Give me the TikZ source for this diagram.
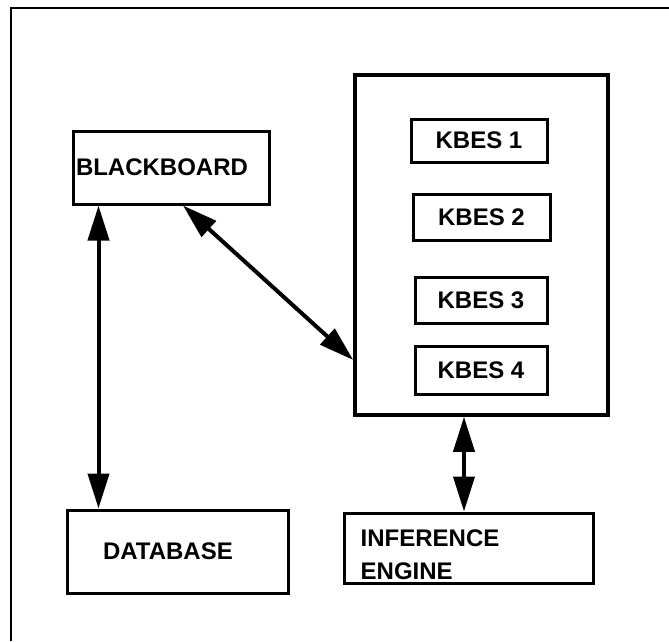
\documentclass[tikz,border=0pt]{standalone}
\usepackage{fontspec}
\setmainfont{Liberation Sans}
\usetikzlibrary{arrows.meta}
\begin{document}
\begin{tikzpicture}[x=1pt,y=-1pt,
  box/.style={draw, line width=3pt, rectangle, inner sep=0pt, font=\bfseries\fontsize{24}{34}\selectfont},
  lbl/.style={inner sep=0pt, font=\bfseries\fontsize{24}{33}\selectfont},
  dbl/.style={line width=4pt, {Triangle[length=35pt 0,width=21pt 0]}-{Triangle[length=35pt 0,width=21pt 0]}}
]
\useasboundingbox (0,0) rectangle (669,641);
% outer frame (cropped at right and bottom)
\draw[line width=2.5pt] (669,8) -- (11,8) -- (11,641);

\node[box, minimum width=196pt, minimum height=73pt, text width=190pt, align=left, inner xsep=3pt] (bb) at (171,167.5) {BLACKBOARD};
\node[box, minimum width=221pt, minimum height=83pt, text width=149pt, align=left, inner xsep=36pt] (db) at (177.5,551.5) {DATABASE};
\node[box, line width=3.5pt, minimum width=253pt, minimum height=340pt] (kb) at (481.5,245) {};
\node[box, minimum width=136pt, minimum height=43pt] (k1) at (479,140.5) {KBES 1};
\node[box, minimum width=137pt, minimum height=46pt] (k2) at (481.5,217) {KBES 2};
\node[box, minimum width=132pt, minimum height=46pt] (k3) at (481,300) {KBES 3};
\node[box, minimum width=132pt, minimum height=48pt] (k4) at (481,370) {KBES 4};
\node[box, minimum width=249pt, minimum height=70pt] (ie) at (468.5,548) {};
\node[lbl, align=left, anchor=base west] (ietext) at ([xshift=18pt,yshift=-31pt]ie.west) {INFERENCE\\ENGINE};

\draw[dbl] ([xshift=27pt]bb.south west) -- ([xshift=27pt]bb.south west |- db.north);
\draw[dbl] ([xshift=12pt]bb.south) -- ([yshift=-115pt]kb.west);
\draw[dbl] ([xshift=-17.5pt]kb.south) -- ([xshift=-17.5pt]kb.south |- ie.north);
\end{tikzpicture}
\end{document}
